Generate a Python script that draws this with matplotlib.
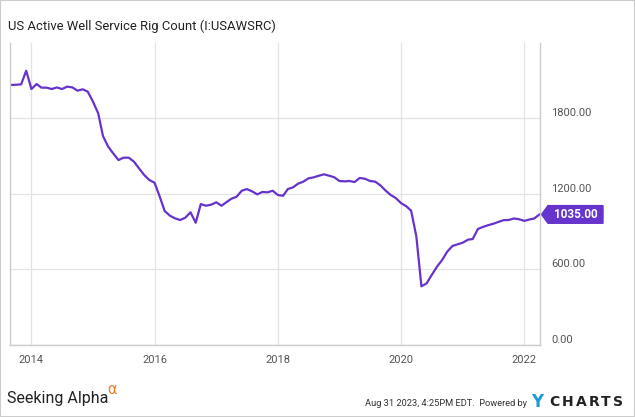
import pandas as pd
import matplotlib
matplotlib.use("Agg")
import matplotlib.pyplot as plt
import matplotlib.dates as mdates
from matplotlib.patches import Polygon, Rectangle
from matplotlib.transforms import blended_transform_factory

plt.rcParams["font.family"] = ["Roboto", "DejaVu Sans"]

# monthly rig counts, Sep 2013 .. Apr 2022
START = "2013-09-01"
RIG_COUNT = [
    2061, 2063, 2066, 2174, 2029, 2069, 2040, 2040, 2029, 2042, 2029, 2048,
    2042, 2016, 2027, 2008, 1929, 1836, 1657, 1572, 1519, 1466, 1485, 1485,
    1453, 1400, 1347, 1308, 1286, 1175, 1062, 1025, 1004, 991, 1009, 1052,
    969, 1117, 1104, 1112, 1131, 1104, 1131, 1160, 1175, 1223, 1236, 1218,
    1194, 1213, 1210, 1223, 1189, 1183, 1236, 1250, 1279, 1295, 1321, 1329,
    1342, 1353, 1342, 1330, 1300, 1297, 1300, 1292, 1324, 1318, 1300, 1295,
    1265, 1225, 1189, 1165, 1125, 1100, 1065, 860, 465, 489, 555, 620,
    674, 740, 785, 798, 811, 835, 840, 920, 936, 950, 961, 976,
    990, 991, 1003, 997, 984, 995, 1003, 1035,
]
YEAR_TICKS = ["2014", "2016", "2018", "2020", "2022"]
Y_TICKS = [0, 600, 1200, 1800]

TITLE = "US Active Well Service Rig Count (I:USAWSRC)"
LINE_COLOR = "#6633CC"
GRID = "#e3e3e3"
TICK_TXT = "#555555"

dates = pd.date_range(START, periods=len(RIG_COUNT), freq="MS")

fig = plt.figure(figsize=(6.35, 4.17), dpi=100)
ax = fig.add_axes([10 / 635, 72 / 417, 530 / 635, 302 / 417])

ax.plot(dates, RIG_COUNT, color=LINE_COLOR, lw=1.6, solid_joinstyle="round")

ax.set_xlim(pd.Timestamp("2013-08-27"), pd.Timestamp("2022-04-04"))
ax.set_ylim(0, 2394)

ax.set_xticks([pd.Timestamp(y + "-01-01") for y in YEAR_TICKS])
ax.xaxis.set_major_formatter(mdates.DateFormatter("%Y"))
ax.set_yticks(Y_TICKS)
ax.set_yticklabels([f"{v:.2f}" for v in Y_TICKS])
ax.yaxis.tick_right()
ax.tick_params(axis="both", length=0, labelsize=8, labelcolor=TICK_TXT)
ax.tick_params(axis="x", pad=7)
ax.tick_params(axis="y", pad=8)
for lab in ax.get_yticklabels():
    lab.set_verticalalignment("bottom")

ax.grid(True, color=GRID, lw=0.9)
ax.set_axisbelow(True)
ax.spines["top"].set_visible(False)
for s in ["left", "right", "bottom"]:
    ax.spines[s].set_color("#cccccc")
    ax.spines[s].set_linewidth(1.0)

# last value tag on the right axis
last = RIG_COUNT[-1]
tr = blended_transform_factory(ax.transAxes, ax.transData)
half = 70
tag = Polygon([(1.0028, last), (1.0151, last + half), (1.1189, last + half),
               (1.1189, last - half), (1.0151, last - half)],
              closed=True, transform=tr, color=LINE_COLOR, clip_on=False)
ax.add_patch(tag)
ax.text(1.067, last, f"{last:.2f}", transform=tr, color="white",
        fontsize=8.5, fontweight="bold", ha="center", va="center")

fig.text(8 / 635, 1 - 26 / 417, TITLE, fontsize=9.4, color="#222222",
         ha="left", va="center")

# footer
fig.text(7 / 635, 1 - 399 / 417, "Seeking Alpha", fontsize=11.5,
         color="#222222", ha="left", va="center")
fig.text(107 / 635, 1 - 389 / 417, "\u03b1", fontsize=10.5, color="#f47a20",
         ha="left", va="center", family=["DejaVu Sans"])
fig.text(527 / 635, 1 - 404 / 417, "Aug 31 2023, 4:25PM EDT.  Powered by",
         fontsize=6.7, color="#333333", ha="right", va="center")
fig.text(537 / 635, 1 - 402 / 417, "Y", fontsize=12, fontweight="bold",
         color="#1c9ad6", ha="center", va="center", family=["DejaVu Sans"])
for ch, cx in zip("CHARTS", [554, 567.5, 581, 594.5, 606, 618.5]):
    fig.text(cx / 635, 1 - 402 / 417, ch, fontsize=10, fontweight="bold",
             color="#222222", ha="center", va="center",
             family=["DejaVu Sans"])

fig.patches.append(Rectangle((0, 0), 1, 1, transform=fig.transFigure,
                             fill=False, ec="#cccccc", lw=1.5))

fig.savefig("out.png", dpi=100)
